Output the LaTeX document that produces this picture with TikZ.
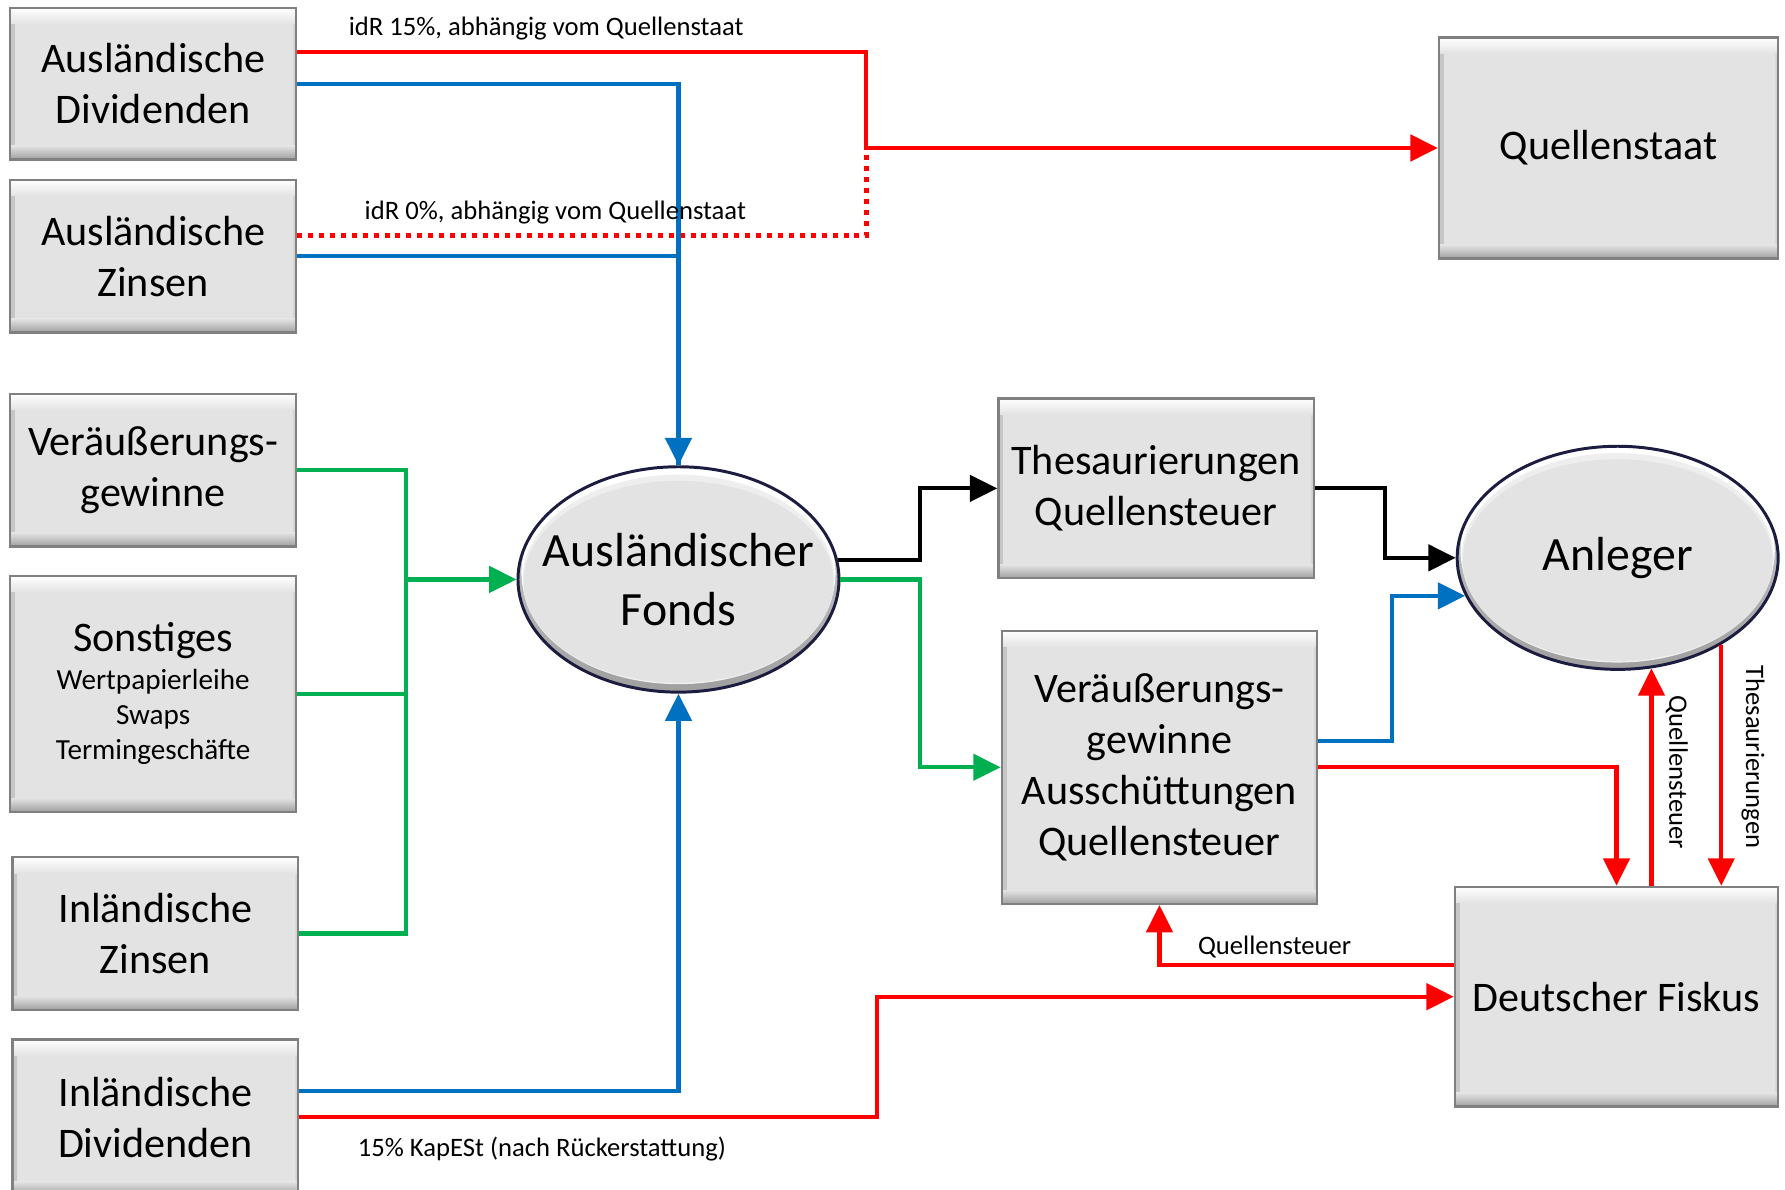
\documentclass[tikz,border=0pt]{standalone}
\usepackage{fontspec}
\setmainfont{Carlito}
\usetikzlibrary{arrows.meta,shapes.geometric,calc}
\definecolor{cred}{RGB}{255,0,0}
\definecolor{cblue}{RGB}{0,112,192}
\definecolor{cgreen}{RGB}{0,176,80}
\definecolor{boxfill}{RGB}{227,227,227}
\definecolor{boxline}{RGB}{128,128,128}
\definecolor{elline}{RGB}{28,28,64}
\newcommand\bxfont{\fontsize{18.5}{22.5}\selectfont}
\newcommand\smfont{\fontsize{12.8}{15.5}\selectfont}
\newcommand\elfont{\fontsize{21}{26}\selectfont}
\newcommand\lbfont{\fontsize{11.7}{14}\selectfont}
\tikzset{
  box/.style={rectangle, draw=boxline, line width=1pt, fill=boxfill, inner sep=0pt, align=center, font=\bxfont,
    path picture={
      \shade[left color=gray!45, right color=boxfill] (path picture bounding box.south west) rectangle ([xshift=2pt]path picture bounding box.north west);
      \shade[right color=gray!45, left color=boxfill] (path picture bounding box.south east) rectangle ([xshift=-2pt]path picture bounding box.north east);
      \shade[top color=white, bottom color=boxfill] (path picture bounding box.north west) rectangle ([yshift=-7pt]path picture bounding box.north east);
      \shade[top color=boxfill, bottom color=gray!75] ([yshift=6pt]path picture bounding box.south west) rectangle (path picture bounding box.south east);
    }},
  ell/.style={ellipse, draw=elline, line width=1.3pt, inner sep=0pt, align=center, font=\elfont,
    path picture={
      \shade[top color=gray!35, bottom color=gray!75] (path picture bounding box.north west) rectangle (path picture bounding box.south east);
      \fill[white] ([yshift=3pt]path picture bounding box.center) ellipse [x radius=69pt, y radius=47.8pt];
      \fill[boxfill!60!white] ([yshift=0pt]path picture bounding box.center) ellipse [x radius=68.5pt, y radius=46pt];
      \fill[boxfill] ([yshift=-1pt]path picture bounding box.center) ellipse [x radius=68pt, y radius=44.3pt];
    }},
  conn/.style={line width=1.8pt},
  arr/.style={conn, -{Triangle[length=12pt,width=11.5pt]}},
  dotline/.style={line width=2.1pt, dash pattern=on 2.2pt off 2.6pt},
  lbl/.style={font=\lbfont, inner sep=0pt, anchor=west}
}
\begin{document}
\begin{tikzpicture}[x=0.5pt,y=-0.5pt]
\useasboundingbox (0,0) rectangle (1568,1045);
\clip (0,0) rectangle (1568,1045);
% boxes
\node[box, minimum width=125.5pt, minimum height=66.5pt] (ad) at (134.5,73.5) {Ausländische\\Dividenden};
\node[box, minimum width=125.5pt, minimum height=67pt] (az) at (134.5,225) {Ausländische\\Zinsen};
\node[box, minimum width=125.5pt, minimum height=67pt] (vg) at (134.5,413) {Veräußerungs-\\gewinne};
\node[box, minimum width=125.5pt, minimum height=103.5pt, text width=125pt] (so) at (134.5,609.5) {Sonstiges\par\vspace{1pt}{\smfont Wertpapierleihe\\Swaps\\Termingeschäfte\par}};
\node[box, minimum width=125.5pt, minimum height=67pt] (iz) at (136.5,820) {Inländische\\Zinsen};
\node[box, minimum width=125.5pt, minimum height=68.5pt] (id) at (136.5,981.5) {Inländische\\Dividenden};
\node[box, minimum width=149pt, minimum height=97pt] (qs) at (1413,130) {Quellenstaat};
\node[box, minimum width=138.5pt, minimum height=79pt] (th) at (1015.5,429) {Thesaurierungen\\Quellensteuer};
\node[box, minimum width=138.5pt, minimum height=120pt] (vaq) at (1018.5,674) {Veräußerungs-\\gewinne\\Ausschüttungen\\Quellensteuer};
\node[box, minimum width=142pt, minimum height=96.5pt] (fk) at (1420,875.5) {Deutscher Fiskus};
% ellipses
\node[ell, minimum width=141pt, minimum height=99pt] (fo) at (596,509) {\makebox[0pt]{Ausländischer}\\\makebox[0pt]{Fonds}};
\node[ell, minimum width=141pt, minimum height=98pt] (an) at (1421,490) {\makebox[0pt]{Anleger}};
% helper coordinates
\coordinate (rj) at (761,130);
\coordinate (gx) at (357,600);
\coordinate (kx) at (770,900);
\coordinate (mx) at (808,500);
% connectors
\draw[conn, cred, dotline] ([yshift=9pt]az.east) -| (rj);
\draw[arr, cred] ([yshift=13.75pt]ad.east) -| (rj) -- (qs.west);
\draw[conn, cblue] (az.east) -| (fo.north);
\draw[arr, cblue] (ad.east) -| (fo.north);
\draw[arr, cblue] ([yshift=11.75pt]id.east) -| (fo.south);
\draw[conn, cgreen] (vg.east) -| (gx) |- (iz.east);
\draw[conn, cgreen] (so.east) -- (so.east -| gx);
\draw[arr, cgreen] (fo.west -| gx) -- (fo.west);
\draw[arr, cred] (id.east) -| (kx) |- (fk.west);
\draw[arr, black] (fo.7.8) -- (fo.7.8 -| mx) |- (th.west);
\draw[arr, cgreen] (fo.east) -- (fo.east -| mx) |- (vaq.west);
\draw[arr, black] (th.east) -- ++(62,0) |- (an.west);
\draw[arr, cblue] ([yshift=11.5pt]vaq.east) -- ++(65,0) |- (an.194.4);
\draw[arr, cred] (vaq.east) -| (fk.north);
\draw[arr, cred] (fk.north -| an.-73) -- (an.-73);
\draw[arr, cred] (an.-40) -- (an.-40 |- fk.north);
\draw[arr, cred] ([yshift=13.75pt]fk.west) -| (vaq.south);
% labels
\node[lbl] (l1) at (306,25) {idR 15\%, abhängig vom Quellenstaat};
\node[lbl] (l2) at (320,187) {idR 0\%, abhängig vom Quellenstaat};
\node[lbl] (l3) at (314,1009) {15\% KapESt (nach Rückerstattung)};
\node[lbl] (l4) at (1052,832) {Quellensteuer};
\node[lbl, anchor=center, rotate=-90] (l5) at (1473,678.5) {Quellensteuer};
\node[lbl, anchor=center, rotate=-90] (l6) at (1540,665) {Thesaurierungen};
\end{tikzpicture}
\end{document}
